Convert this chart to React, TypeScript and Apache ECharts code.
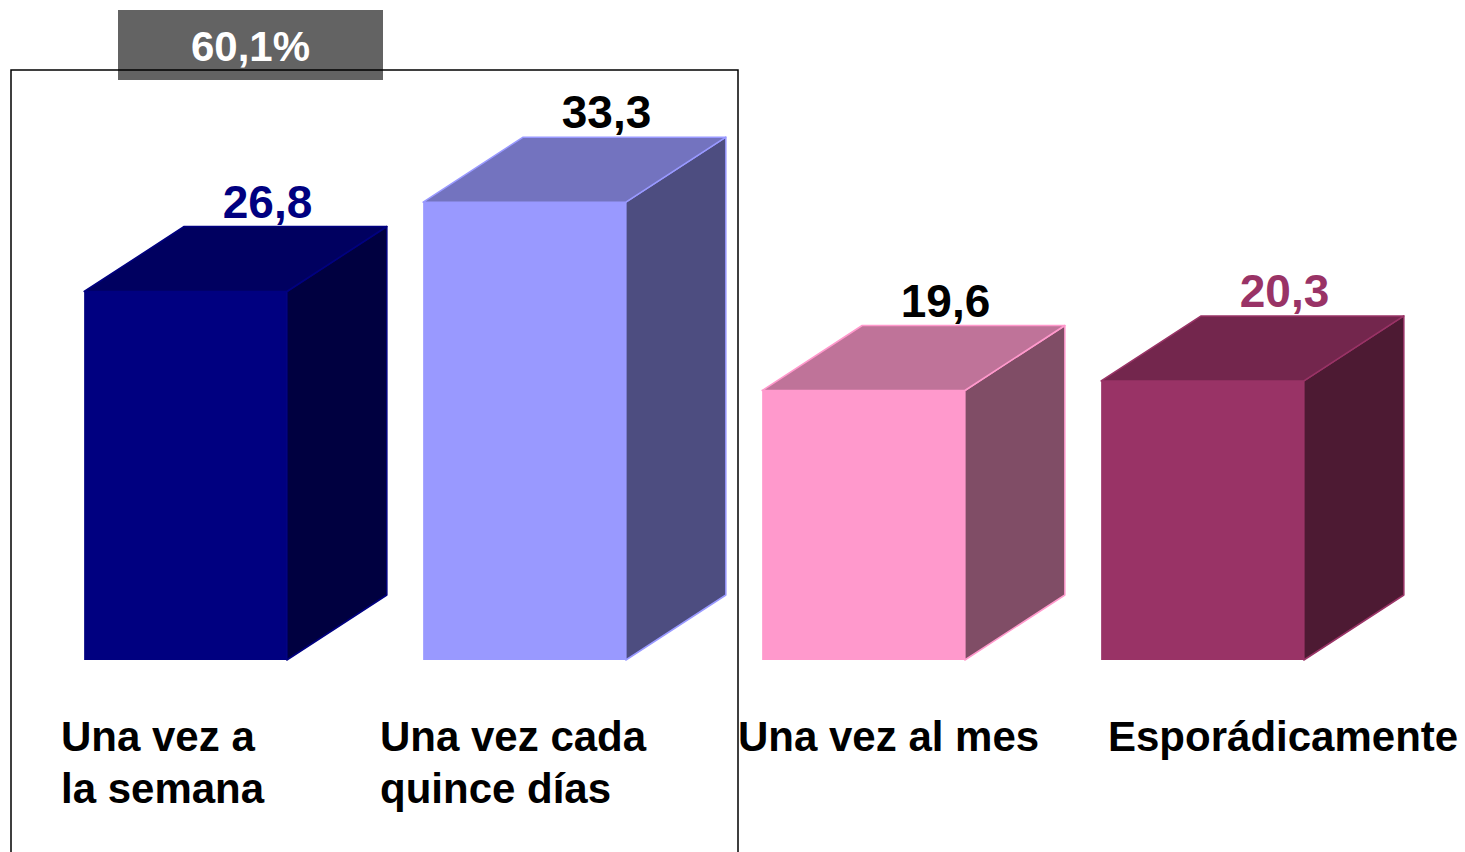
import React, { useEffect, useRef } from "react";
import * as echarts from "echarts";

const categories = ["Una vez a\nla semana", "Una vez cada\nquince días", "Una vez al mes", "Esporádicamente"];
const values = [26.8, 33.3, 19.6, 20.3];
const valueLabels = ["26,8", "33,3", "19,6", "20,3"];
const groupLabel = "60,1%";

const frontColors = ["#000080", "#9999FF", "#FF99CC", "#993366"];
const topColors = ["#000060", "#7373BF", "#BF7399", "#73264D"];
const sideColors = ["#000040", "#4D4D80", "#804D66", "#4D1A33"];
const edgeColors = ["#000080", "#9999FF", "#FF99CC", "#993366"];
const labelColors = ["#000080", "#000000", "#000000", "#993366"];
const catLabelX = [61, 380, 738, 1108];

const FONT = "'Liberation Sans', Arial, sans-serif";

export default function App() {
  const ref = useRef<HTMLDivElement>(null);
  useEffect(() => {
    document.body.style.margin = "0";
    const chart = echarts.init(ref.current!, null, { renderer: "svg" });
    const DX = 100;
    const DY = -65;
    const option: any = {
      animation: false,
      backgroundColor: "#ffffff",
      grid: { left: 16, right: 93, top: 110, bottom: 192 },
      xAxis: {
        type: "category",
        data: categories,
        show: false,
      },
      yAxis: { type: "value", min: 0, max: 40, show: false },
      graphic: [
        { type: "rect", shape: { x: 118, y: 10, width: 265, height: 70 }, style: { fill: "#636363" }, z: 1 },
        {
          type: "text",
          x: 250.5,
          y: 46,
          style: { text: groupLabel, fill: "#ffffff", font: `bold 42px ${FONT}`, align: "center", verticalAlign: "middle" },
          z: 2,
        },
        {
          type: "rect",
          shape: { x: 11, y: 70, width: 727, height: 820 },
          style: { fill: "none", stroke: "#000000", lineWidth: 1.5 },
          z: 3,
        },
        ...categories.map((c, i) => ({
          type: "text",
          x: catLabelX[i],
          y: 710,
          style: { text: c, fill: "#000000", font: `bold 42px ${FONT}`, lineHeight: 52, align: "left", verticalAlign: "top" },
          z: 4,
        })),
      ],
      series: [
        {
          type: "custom",
          data: values.map((v, i) => [i, v]),
          renderItem: (params: any, api: any) => {
            const i = api.value(0);
            const v = api.value(1);
            const top = api.coord([i, v]);
            const base = api.coord([i, 0]);
            const w = api.size([1, 0])[0] * 0.598;
            const x0 = top[0] - w / 2;
            const x1 = top[0] + w / 2;
            const yT = top[1];
            const yB = base[1];
            const edge = { stroke: edgeColors[i], lineWidth: 1.5, lineJoin: "round" };
            return {
              type: "group",
              children: [
                {
                  type: "polygon",
                  shape: { points: [[x1, yT], [x1 + DX, yT + DY], [x1 + DX, yB + DY], [x1, yB]] },
                  style: { fill: sideColors[i], ...edge },
                },
                {
                  type: "polygon",
                  shape: { points: [[x0, yT], [x0 + DX, yT + DY], [x1 + DX, yT + DY], [x1, yT]] },
                  style: { fill: topColors[i], ...edge },
                },
                {
                  type: "rect",
                  shape: { x: x0, y: yT, width: w, height: yB - yT },
                  style: { fill: frontColors[i] },
                },
                {
                  type: "text",
                  x: (x0 + x1) / 2 + DX - 18,
                  y: yT + DY - 25,
                  style: {
                    text: valueLabels[i],
                    fill: labelColors[i],
                    font: `bold 46px ${FONT}`,
                    align: "center",
                    verticalAlign: "middle",
                  },
                },
              ],
            };
          },
        },
      ],
    };
    chart.setOption(option);
    return () => chart.dispose();
  }, []);
  return <div ref={ref} style={{ width: 1465, height: 852 }} />;
}
